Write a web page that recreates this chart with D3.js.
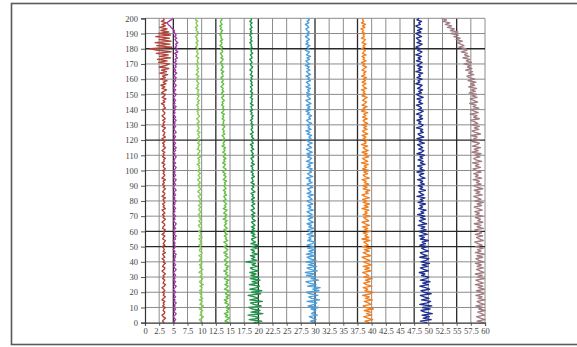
<!DOCTYPE html>
<html><head><meta charset="utf-8">
<script src="https://cdn.jsdelivr.net/npm/d3@7"></script>
<style>body{margin:0;background:#fff;}svg{display:block;}</style>
</head><body>
<svg id="chart" width="577" height="347"></svg>
<script>
// depth levels (y axis), one sample per unit from 0 to 200
const depths = d3.range(0, 201, 1);
const xTicks = [0,2.5,5,7.5,10,12.5,15,17.5,20,22.5,25,27.5,30,32.5,35,37.5,40,42.5,45,47.5,50,52.5,55,57.5,60];
const xTickLabels = ["0","2.5","5","7.5","10","12.5","15","17.5","20","22.5","25","27.5","30","32.5","35","37.5","40","42.5","45","47.5","50","52.5","55","57.5","60"];
const yTicks = [0,10,20,30,40,50,60,70,80,90,100,110,120,130,140,150,160,170,180,190,200];
const darkX = [5,12.5,20,30,37.5,47.5,55];
const darkY = [180,120,60,50];

const seriesNames = ["red","purple","lightgreen","green","darkgreen","blue","orange","navy","mauve"];
const seriesColors = ["#b0443a","#a43aa8","#86cc58","#62bf44","#1e9248","#4b9fdc","#f07d1e","#1f2f8f","#a07c82"];

const redVals = [3.4,3.1,3.3,3.6,3.2,3.0,3.4,3.5,3.2,3.3, 3.6,3.1,3.4,3.2,3.5,3.0,3.3,3.6,3.2,3.4, 3.1,3.5,3.3,3.0,3.4,3.6,3.2,3.3,3.5,3.1, 3.4,3.2,3.6,3.3,3.0,3.4,3.5,3.1,3.3,3.6, 3.2,3.4,3.0,3.5,3.3,3.1,3.6,3.2,3.4,3.3, 3.0,3.5,3.2,3.4,3.6,3.1,3.3,3.5,3.0,3.4, 3.3,3.6,3.1,3.2,3.5,3.4,3.0,3.3,3.6,3.2, 3.4,3.1,3.5,3.3,3.0,3.6,3.2,3.4,3.1,3.5, 3.3,3.2,3.6,3.0,3.4,3.5,3.1,3.3,3.6,3.2, 3.5,3.1,3.4,3.2,3.6,3.0,3.3,3.5,3.2,3.4, 3.1,3.6,3.3,3.2,3.5,3.0,3.4,3.3,3.6,3.1, 3.4,3.2,3.5,3.0,3.3,3.6,3.2,3.4,3.1,3.5, 3.3,3.0,3.6,3.2,3.4,3.5,3.1,3.3,3.6,3.0, 3.4,3.2,3.5,3.1,3.6,3.3,3.0,3.4,3.5,3.2, 3.1,3.6,3.3,3.4,2.9,3.5,3.2,3.7,3.0,3.4, 3.6,2.9,3.3,3.8,3.0,3.5,2.8,3.7,3.2,3.9, 2.7,3.6,3.1,4.0,2.6,3.8,2.9,4.2,2.5,3.7, 4.3,2.4,3.9,2.2,4.5,2.6,4.1,2.0,4.6,2.3, 0.9,4.7,2.1,4.4,1.8,4.6,2.5,4.3,1.9,4.5, 2.4,4.2,2.8,3.9,2.6,3.6,3.0,3.8,2.9,3.4, 3.2];
const purpleVals = [5.3,5.1,5.4,5.2,5.0,5.3,5.5,5.1,5.2,5.4, 5.0,5.3,5.2,5.5,5.1,5.3,5.0,5.4,5.2,5.1, 5.4,5.2,5.0,5.3,5.5,5.1,5.2,5.4,5.0,5.3, 5.1,5.4,5.2,5.0,5.3,5.5,5.2,5.1,5.4,5.2, 5.0,5.3,5.1,5.4,5.2,5.5,5.1,5.3,5.0,5.2, 5.4,5.1,5.3,5.2,5.0,5.4,5.2,5.5,5.1,5.3, 5.2,5.0,5.4,5.1,5.3,5.5,5.2,5.0,5.3,5.1, 5.4,5.2,5.0,5.3,5.1,5.4,5.2,5.0,5.3,5.2, 5.5,5.1,5.3,5.0,5.4,5.2,5.1,5.5,5.3,5.0, 5.2,5.4,5.1,5.3,5.5,5.0,5.2,5.4,5.1,5.3, 5.0,5.3,5.5,5.2,5.1,5.4,5.0,5.2,5.3,5.5, 5.1,5.3,5.0,5.4,5.2,5.5,5.1,5.2,5.4,5.0, 5.3,5.1,5.4,5.2,5.0,5.5,5.3,5.1,5.2,5.4, 5.0,5.3,5.2,5.5,5.1,5.4,5.2,5.0,5.3,5.1, 5.4,5.2,5.5,5.0,5.3,5.1,5.4,5.2,5.0,5.3, 5.5,5.1,5.2,5.4,5.0,5.3,5.5,5.2,5.1,5.4, 5.2,5.5,5.1,5.3,5.6,5.2,5.4,5.1,5.5,5.3, 5.6,5.2,5.5,5.3,5.7,5.4,5.6,5.2,5.8,5.4, 5.7,5.3,5.6,5.4,5.8,5.5,5.3,5.6,5.2,5.5, 5.3,5.1,5.2,4.9,4.6,4.4,4.1,3.9,4.2,4.6, 5.0];
const lightGreenVals = [10.2,9.8,9.6,10.1,10.3,9.7,10.0,9.8,10.2,9.6, 10.0,10.3,9.7,9.9,10.1,9.6,10.2,9.8,10.0,9.7, 10.2,9.6,9.9,10.1,9.7,10.3,9.8,9.6,10.0,10.2, 9.7,9.9,10.1,9.5,9.8,10.2,9.7,9.9,9.6,10.0, 10.1,9.6,9.8,10.0,9.5,9.9,10.1,9.7,9.6,10.0, 9.8,9.5,10.0,9.7,9.9,9.5,10.1,9.6,9.8,9.9, 9.5,9.8,10.0,9.6,9.4,9.9,9.7,9.5,10.0,9.6, 9.8,9.4,9.7,9.9,9.5,9.6,9.9,9.4,9.8,9.7, 9.5,9.9,9.6,9.4,9.8,9.7,9.3,9.6,9.9,9.5, 9.7,9.4,9.8,9.5,9.3,9.7,9.6,9.4,9.8,9.5, 9.3,9.7,9.5,9.6,9.2,9.7,9.4,9.6,9.3,9.8, 9.5,9.3,9.6,9.7,9.2,9.5,9.4,9.7,9.3,9.6, 9.4,9.2,9.6,9.5,9.3,9.7,9.2,9.4,9.6,9.3, 9.5,9.2,9.6,9.4,9.1,9.5,9.6,9.3,9.4,9.2, 9.6,9.3,9.4,9.1,9.5,9.3,9.6,9.2,9.4,9.5, 9.1,9.4,9.3,9.5,9.0,9.4,9.2,9.5,9.3,9.1, 9.4,9.2,9.5,9.0,9.3,9.4,9.1,9.5,9.2,9.3, 9.0,9.4,9.2,9.3,9.5,9.0,9.2,9.4,9.1,9.3, 9.4,8.9,9.2,9.3,9.0,9.4,9.1,9.2,8.9,9.3, 9.1,9.4,9.0,9.2,8.9,9.3,9.1,9.0,9.3,8.9, 9.1];
const greenVals = [14.8,14.1,14.5,14.9,14.2,14.6,14.0,14.7,14.4,14.9, 14.2,14.6,14.8,14.1,14.5,14.0,14.7,14.3,14.9,14.2, 14.5,14.8,14.0,14.4,14.7,14.1,14.6,14.3,14.8,14.0, 14.4,14.7,14.2,14.5,13.9,14.6,14.3,14.8,14.1,14.4, 14.6,14.0,14.3,14.7,14.1,14.5,13.9,14.4,14.6,14.2, 14.0,14.5,14.3,13.9,14.6,14.2,14.4,14.0,14.5,14.1, 14.3,13.9,14.5,14.2,14.0,14.4,14.1,14.5,13.8,14.3, 14.1,14.4,13.9,14.2,14.5,13.8,14.3,14.0,14.4,14.1, 13.8,14.3,14.1,13.9,14.4,14.0,14.2,13.8,14.3,14.1, 13.9,14.2,14.0,14.4,13.8,14.1,14.3,13.9,14.2,13.7, 14.1,14.3,13.8,14.0,14.2,13.7,14.1,13.9,14.3,13.8, 14.0,14.2,13.7,14.1,13.9,14.2,13.6,14.0,13.8,14.1, 13.7,14.0,13.9,13.6,14.1,13.8,14.0,13.7,13.9,14.1, 13.6,13.9,13.8,14.0,13.6,13.9,13.7,14.0,13.5,13.8, 14.0,13.7,13.9,13.5,13.8,13.6,14.0,13.7,13.5,13.9, 13.7,13.5,13.9,13.6,13.8,13.4,13.7,13.9,13.5,13.8, 13.6,13.4,13.8,13.7,13.5,13.9,13.4,13.6,13.8,13.5, 13.7,13.3,13.6,13.8,13.4,13.7,13.5,13.3,13.7,13.6, 13.4,13.7,13.2,13.5,13.6,13.3,13.7,13.4,13.5,13.2, 13.6,13.4,13.7,13.3,13.5,13.2,13.6,13.4,13.3,13.6, 13.4];
const darkGreenVals = [19.2,20.6,18.4,20.1,19.5,18.2,20.8,18.7,20.3,19.0, 18.3,20.5,19.2,18.6,20.7,18.5,20.0,19.3,18.2,20.4, 18.8,20.6,18.5,19.7,20.2,18.4,19.9,18.9,20.3,18.6, 20.1,18.7,19.6,18.5,20.0,19.0,18.6,19.8,18.9,19.5, 17.8,19.7,18.8,19.4,18.6,19.9,18.9,19.3,18.7,19.8, 18.9,20.0,18.7,19.5,19.0,18.8,19.6,18.9,19.4,18.7, 19.5,18.9,19.3,18.8,19.4,19.1,18.8,19.5,19.0,18.9, 19.3,18.8,19.4,19.0,18.7,19.3,19.1,18.8,19.4,18.9, 19.2,18.8,19.3,18.9,19.1,18.7,19.4,19.0,18.8,19.2, 18.9,19.3,18.7,19.1,19.0,18.8,19.3,18.9,19.1,18.7, 19.2,18.9,19.0,18.7,19.3,18.8,19.1,18.9,18.7,19.2, 18.8,19.1,18.9,18.7,19.2,18.8,19.0,18.6,19.1,18.9, 18.7,19.2,18.8,19.0,18.6,19.1,18.9,18.7,19.0,18.8, 19.1,18.7,18.9,18.6,19.0,18.8,19.1,18.7,18.9,18.6, 19.0,18.8,18.7,19.1,18.6,18.9,18.8,19.0,18.6,18.9, 18.7,19.0,18.6,18.9,18.8,18.6,19.0,18.7,18.9,18.6, 18.9,18.7,19.0,18.6,18.8,18.9,18.5,18.8,19.0,18.7, 18.6,18.9,18.7,18.5,18.9,18.8,18.6,19.0,18.7,18.8, 18.5,18.9,18.7,18.8,18.5,18.9,18.6,18.8,18.7,18.5, 18.9,18.6,18.8,18.5,18.9,18.7,18.6,18.9,18.5,18.8, 18.7];
const blueVals = [29.9,29.2,30.2,29.6,29.0,30.4,29.4,29.8,30.1,29.3, 30.6,28.8,29.9,30.3,28.6,30.8,29.4,28.9,30.5,29.1, 28.5,30.7,29.6,30.9,28.7,30.2,29.0,28.4,30.6,29.3, 30.1,28.5,29.8,28.3,30.4,29.2,28.6,30.3,28.8,29.9, 28.4,30.2,29.1,28.6,30.0,28.5,29.7,28.9,30.1,28.7, 29.8,28.6,29.5,30.0,28.7,29.3,28.9,29.9,28.6,29.6, 29.0,28.7,29.8,28.9,29.4,28.6,29.7,29.1,28.8,29.6, 28.7,29.5,29.0,28.6,29.7,28.9,29.3,28.7,29.6,29.0, 28.6,29.5,29.2,28.8,29.7,28.6,29.3,29.0,28.7,29.6, 29.1,28.6,29.5,28.9,29.2,28.5,29.6,29.0,28.7,29.4, 28.9,29.5,28.6,29.2,28.8,29.6,28.5,29.1,29.4,28.7, 29.3,28.6,29.5,28.9,28.5,29.4,29.0,28.7,29.5,28.8, 28.5,29.3,28.9,29.4,28.6,29.1,28.4,29.3,28.8,29.0, 28.6,29.4,28.8,28.5,29.2,28.9,29.4,28.6,29.0,28.4, 29.3,28.7,29.1,28.5,29.3,28.8,28.4,29.2,28.9,28.6, 29.3,28.5,29.0,28.7,29.2,28.4,29.1,28.8,28.5,29.2, 28.7,29.0,28.4,29.2,28.8,28.5,29.1,28.6,29.0,28.3, 29.1,28.7,28.4,29.0,28.6,29.2,28.5,28.8,29.0,28.3, 28.9,28.6,29.1,28.4,28.8,28.5,29.0,28.7,28.3,28.9, 28.5,29.0,28.6,28.4,28.9,28.7,28.3,28.9,28.6,29.0, 28.7];
const orangeVals = [39.6,38.8,40.2,39.3,38.6,40.0,39.1,39.8,38.7,40.3, 39.0,38.5,39.9,39.4,38.7,40.1,38.9,39.6,38.4,39.8, 40.2,38.8,39.3,38.5,40.0,39.1,38.6,39.7,38.9,40.1, 38.6,39.5,39.0,38.4,39.9,38.8,39.6,38.5,40.0,39.2, 38.6,39.7,38.9,38.3,39.8,39.1,38.5,39.6,38.7,39.9, 38.4,39.4,39.0,38.6,39.7,38.3,39.5,38.8,39.2,38.5, 39.8,38.7,39.3,38.4,39.6,38.9,38.3,39.5,39.0,38.6, 39.7,38.5,39.2,38.8,39.5,38.3,39.4,38.7,39.6,38.5, 39.1,38.4,39.6,38.8,38.3,39.4,38.9,39.7,38.5,39.2, 38.4,39.5,38.7,39.0,38.3,39.6,38.8,38.5,39.3,38.6, 39.5,38.4,39.1,38.7,39.4,38.2,39.3,38.8,38.4,39.5, 38.6,39.2,38.3,39.4,38.8,38.5,39.3,38.2,39.0,38.7, 39.4,38.5,39.0,38.3,39.3,38.7,38.4,39.2,38.6,39.1, 38.3,39.3,38.7,38.5,39.2,38.4,39.0,38.6,39.3,38.2, 38.9,38.5,39.2,38.3,38.8,39.1,38.4,38.7,39.2,38.3, 39.0,38.5,38.8,38.2,39.1,38.6,38.4,39.0,38.3,38.9, 38.5,39.1,38.2,38.8,38.6,39.0,38.3,38.7,39.1,38.4, 38.8,38.2,39.0,38.5,38.7,38.3,39.0,38.4,38.6,38.9, 38.2,38.8,38.5,39.0,38.3,38.6,38.9,38.2,38.7,38.5, 38.9,38.3,38.6,38.1,38.8,38.4,38.9,38.2,38.6,38.4, 38.5];
const navyVals = [49.8,48.6,50.5,49.1,50.2,48.9,50.7,49.4,48.7,50.3, 49.0,50.6,48.5,49.8,50.4,48.8,50.1,49.3,48.6,50.5, 49.2,48.7,50.2,49.5,48.5,50.0,49.0,50.3,48.6,49.7, 50.1,48.8,49.4,48.4,50.0,49.2,48.6,49.9,48.9,50.2, 48.7,49.6,50.1,48.5,49.8,49.0,48.6,50.0,49.3,48.8, 49.9,48.5,49.5,48.9,50.0,48.6,49.3,48.4,49.8,49.0, 48.3,49.6,48.7,49.4,48.2,49.7,48.9,48.4,49.5,48.6, 49.4,48.1,49.2,48.7,49.6,48.3,49.0,48.5,49.5,48.2, 49.1,48.6,49.4,48.0,49.2,48.7,48.3,49.5,48.5,49.0, 48.2,49.3,48.6,49.0,48.1,49.4,48.7,48.4,49.2,48.0, 49.3,48.5,48.9,48.1,49.4,48.6,49.1,48.2,49.0,48.5, 49.3,48.0,48.8,49.2,48.3,49.0,48.6,48.1,49.3,48.4, 48.9,48.0,49.2,48.5,48.2,49.1,48.6,49.0,47.9,48.8, 49.1,48.3,48.7,48.0,49.0,48.4,48.9,47.9,48.6,49.1, 48.2,48.8,48.5,47.9,49.0,48.3,48.7,48.0,49.1,48.4, 47.9,48.8,48.3,49.0,48.1,48.6,48.9,47.8,48.5,48.2, 48.9,48.0,48.6,48.3,49.0,47.8,48.7,48.2,48.9,48.0, 48.5,48.9,47.9,48.6,48.2,48.8,47.8,48.5,48.9,48.1, 48.6,47.8,48.4,48.9,48.0,48.7,48.2,47.9,48.8,48.3, 47.8,48.7,48.1,48.9,48.2,47.8,48.6,48.3,48.8,48.0, 48.4];
const mauveVals = [59.8,58.6,60.0,59.2,58.5,59.9,59.4,58.7,60.0,58.9, 59.6,58.4,59.9,59.1,58.6,60.0,58.8,59.5,58.4,59.8, 59.3,58.5,59.9,58.8,59.6,58.3,59.7,59.0,58.4,59.9, 58.7,59.5,58.3,59.8,59.1,58.5,59.7,58.6,59.4,58.3, 59.8,58.9,58.4,59.6,58.6,59.9,58.3,59.3,58.7,59.7, 58.4,59.5,58.8,58.2,59.7,59.0,58.5,59.6,58.3,59.4, 58.9,58.2,59.7,58.6,59.3,58.1,59.6,58.7,59.2,58.3, 59.6,58.4,59.0,58.2,59.5,58.8,58.1,59.4,58.6,59.7, 58.2,59.3,58.7,58.0,59.5,58.4,59.1,58.1,59.6,58.6, 58.0,59.3,58.5,59.0,57.9,59.4,58.3,58.8,58.0,59.3, 58.5,57.9,59.2,58.3,58.9,57.8,59.4,58.4,58.0,59.1, 58.2,59.3,57.7,58.8,58.1,59.2,57.8,58.6,59.0,57.7, 59.1,58.0,58.6,57.6,59.2,58.3,57.7,58.9,58.1,59.0, 57.6,58.7,58.2,57.5,59.0,58.0,58.6,57.4,58.8,58.1, 57.5,58.9,57.9,58.4,57.3,58.7,58.0,57.4,58.6,57.7, 58.6,57.2,58.3,57.6,58.5,57.1,58.2,57.5,58.4,57.0, 58.2,57.3,56.8,58.0,57.1,57.8,56.6,57.7,56.9,57.5, 56.3,57.6,56.7,57.3,56.1,57.2,56.4,56.9,55.8,56.8, 56.6,55.4,56.3,55.7,55.1,56.0,54.9,55.6,54.5,55.3, 54.0,55.2,53.9,54.6,53.4,54.1,53.0,53.8,52.6,53.2, 52.3];

const seriesValues = [redVals,purpleVals,lightGreenVals,greenVals,darkGreenVals,blueVals,orangeVals,navyVals,mauveVals];

const svg = d3.select("#chart");
const W = 577, H = 347;
const m = {left:145, right:485, top:18.3, bottom:322.7};

// outer frame
svg.append("rect").attr("x",11.5).attr("y",3.5).attr("width",W+10).attr("height",341)
  .attr("fill","#fff").attr("stroke","#5a5a5a").attr("stroke-width",1.6);

const x = d3.scaleLinear().domain([0,60]).range([m.left,m.right]);
const y = d3.scaleLinear().domain([0,200]).range([m.bottom,m.top]);

const grid = svg.append("g");
xTicks.filter(v=>v>0).forEach(v=>{
  const dark = darkX.includes(v);
  grid.append("line").attr("x1",x(v)).attr("x2",x(v)).attr("y1",y(0)).attr("y2",y(200))
    .attr("stroke",dark?"#2a2a2a":"#8c8c8c").attr("stroke-width",dark?1.3:1);
});
yTicks.filter(v=>v>0).forEach(v=>{
  const dark = darkY.includes(v);
  grid.append("line").attr("x1",x(0)).attr("x2",x(60)).attr("y1",y(v)).attr("y2",y(v))
    .attr("stroke",dark?"#2a2a2a":"#8c8c8c").attr("stroke-width",dark?1.3:1);
});

const line = d3.line().x(d=>x(d[0])).y(d=>y(d[1]));
seriesValues.forEach((vals,i)=>{
  svg.append("path").datum(vals.map((v,j)=>[v,depths[j]]))
    .attr("d",line).attr("fill","none").attr("stroke",seriesColors[i])
    .attr("stroke-width",1.35).attr("stroke-linejoin","round");
});

const font = "'Liberation Serif', serif";
const xAxis = svg.append("g").attr("transform",`translate(0,${m.bottom})`)
  .call(d3.axisBottom(x).tickValues(xTicks).tickFormat((d,i)=>xTickLabels[i]).tickSize(3).tickPadding(2));
const yAxis = svg.append("g").attr("transform",`translate(${m.left},0)`)
  .call(d3.axisLeft(y).tickValues(yTicks).tickSize(4).tickPadding(3));
[xAxis,yAxis].forEach(a=>{
  a.select(".domain").attr("stroke","#333").attr("stroke-width",1.2);
  a.selectAll(".tick line").attr("stroke","#555");
  a.selectAll("text").attr("font-family",font).attr("font-size","8.5px").attr("fill","#444");
});
</script>
</body></html>
